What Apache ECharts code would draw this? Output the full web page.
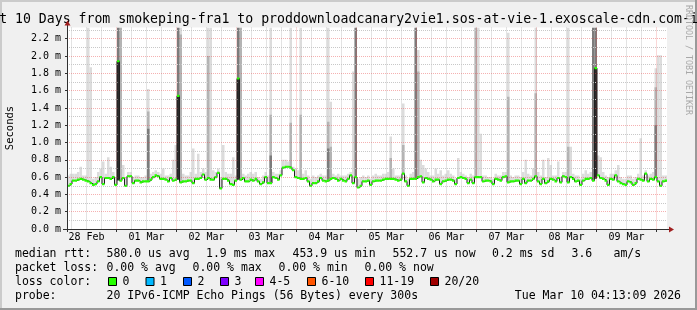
<!DOCTYPE html>
<html><head><meta charset="utf-8">
<script src="https://cdn.jsdelivr.net/npm/echarts@6/dist/echarts.min.js"></script>
<style>html,body{margin:0;padding:0;background:#f0f0f0}#c{width:697px;height:310px}</style>
</head><body><div id="c"></div>
<script>
// ---- data (hours measured from 28 Feb 00:00; one bin = 1 hour) ----
const START_H = 4.22;   // 28 Feb 04:13
const END_H = 244.22;   // 10 Mar 04:13
const dayLabels = ['28 Feb','01 Mar','02 Mar','03 Mar','04 Mar','05 Mar','06 Mar','07 Mar','08 Mar','09 Mar'];
const dayLabelHours = [12,36,60,84,108,132,156,180,204,228];
const dayLineHours = [24,48,72,96,120,144,168,192,216,240];
const yMajorTicks = [0,0.2,0.4,0.6,0.8,1.0,1.2,1.4,1.6,1.8,2.0,2.2];
const yMinorTicks = [0.1,0.3,0.5,0.7,0.9,1.1,1.3,1.5,1.7,1.9,2.1,2.3];
const Y_MAX = 2.33;

// median rtt per hour (ms)
const median = [
0.50,0.52,0.56,0.56,0.57,0.58,0.57,0.56,0.55,0.53,
0.51,0.52,0.55,0.60,0.52,0.59,0.59,0.58,0.60,0.51,
1.94,0.56,0.59,0.50,0.61,0.61,0.53,0.56,0.56,0.54,
0.55,0.55,0.55,0.57,0.60,0.62,0.61,0.58,0.58,0.57,
0.55,0.59,0.56,0.57,1.54,0.54,0.55,0.55,0.56,0.56,
0.53,0.58,0.58,0.59,0.63,0.57,0.59,0.57,0.57,0.60,
0.65,0.47,0.58,0.58,0.56,0.52,0.51,0.56,1.74,0.57,
0.59,0.55,0.55,0.57,0.56,0.58,0.55,0.52,0.54,0.60,
0.53,0.53,0.60,0.59,0.57,0.62,0.71,0.72,0.72,0.71,
0.68,0.60,0.59,0.58,0.58,0.59,0.55,0.50,0.53,0.53,
0.55,0.59,0.56,0.55,0.56,0.58,0.59,0.58,0.56,0.58,
0.56,0.55,0.58,0.62,0.53,0.60,0.48,0.50,0.55,0.55,
0.56,0.51,0.55,0.56,0.56,0.56,0.57,0.58,0.58,0.58,
0.58,0.57,0.56,0.57,0.64,0.55,0.50,0.58,0.58,0.58,
0.60,0.61,0.54,0.59,0.58,0.57,0.55,0.57,0.57,0.52,
0.55,0.56,0.57,0.57,0.56,0.52,0.59,0.60,0.59,0.58,
0.53,0.57,0.53,0.60,0.60,0.60,0.55,0.56,0.56,0.55,
0.52,0.58,0.57,0.56,0.60,0.61,0.54,0.55,0.55,0.56,
0.56,0.52,0.58,0.53,0.56,0.56,0.58,0.61,0.55,0.52,
0.58,0.53,0.55,0.58,0.57,0.55,0.59,0.54,0.61,0.60,
0.54,0.60,0.58,0.55,0.56,0.51,0.56,0.58,0.58,0.59,
0.56,1.86,0.62,0.59,0.58,0.56,0.51,0.58,0.57,0.62,
0.55,0.53,0.52,0.51,0.55,0.54,0.51,0.53,0.58,0.57,
0.56,0.64,0.55,0.58,0.57,0.60,0.55,0.50,0.55,0.56
];
// top of the light smoke per hour (ms)
const smokeHi = [
0.62,0.64,0.64,0.64,0.66,0.72,0.62,0.62,2.33,1.87,
0.58,0.60,0.66,0.70,0.78,0.64,0.83,0.72,0.66,0.60,
2.33,2.33,0.74,0.60,0.66,0.66,0.60,0.62,0.62,0.60,
0.60,0.62,1.62,0.64,0.66,0.68,0.66,0.64,0.70,0.62,
0.62,0.64,0.80,0.97,2.33,2.33,0.64,0.62,0.62,0.66,
0.93,0.64,0.87,0.66,0.70,0.66,2.33,2.33,0.68,0.66,
0.70,0.60,0.97,0.66,0.64,0.64,0.83,0.62,2.33,2.33,
0.64,0.62,0.64,0.66,0.64,0.66,0.60,0.58,0.62,0.66,
0.62,2.33,0.66,0.64,0.64,0.68,0.80,0.80,0.78,2.33,
0.72,0.70,0.68,2.33,0.64,0.68,0.62,0.58,0.62,0.60,
0.62,0.64,0.62,0.62,2.33,1.47,0.64,0.62,0.64,0.62,
0.62,0.62,0.64,0.66,1.82,2.33,0.58,0.60,0.62,0.60,
0.62,0.58,0.62,0.64,0.62,0.62,0.64,0.64,0.66,1.07,
0.70,0.62,0.62,0.62,1.45,0.62,0.58,0.64,0.66,2.33,
2.07,0.80,0.74,0.70,0.66,0.62,0.62,0.70,0.64,0.68,
0.62,0.64,0.68,0.64,0.62,0.58,0.82,0.66,0.64,0.62,
0.60,0.64,0.62,2.33,2.33,1.10,0.62,0.62,0.60,0.60,
0.58,0.64,0.62,0.62,0.66,0.66,2.27,0.62,0.60,0.62,
0.62,0.60,0.66,0.80,0.64,0.62,0.70,2.33,0.66,0.62,
0.80,0.60,0.82,0.74,0.62,0.62,0.78,0.60,0.66,0.66,
2.33,0.95,0.64,0.62,0.62,0.58,0.64,0.68,0.64,0.66,
2.33,2.33,0.85,0.83,0.66,0.62,0.60,0.64,0.64,0.68,
0.74,0.60,0.58,0.58,0.62,0.62,0.58,0.60,0.64,1.05,
0.62,0.68,0.62,0.64,0.66,1.86,2.01,2.01,0.62,0.62
];
// medium smoke: [hour bin, top]
const smokeMid = [[21,2.33],[32,1.36],[45,2.25],[56,2.0],[69,2.33],[81,1.32],[89,1.23],[93,1.32],
  [104,1.24],[105,0.95],[129,0.82],[134,0.97],[140,1.82],[163,2.33],[176,1.53],[187,1.57],[200,0.95],[235,1.64]];
// dark smoke: [hour bin, bottom, top, shade]
const smokeDark = [[20,0.56,1.94,0],[20,1.94,2.33,1],[32,0.56,1.16,1],[44,0.57,1.54,0],[44,1.54,2.33,1],
  [68,0.57,1.74,0],[68,1.74,2.33,1],[81,0.54,0.85,1],[104,0.57,0.93,1],[115,0.60,2.33,1],[139,0.58,2.33,1],
  [210,0.56,2.33,1],[211,0.58,1.86,0],[211,1.86,2.33,1],[235,0.60,1.20,1]];

const titleText = 'Last 10 Days from smokeping-fra1 to proddownloadcanary2vie1.sos-at-vie-1.exoscale-cdn.com-ipv6';
const statsRow1 = [['median rtt:',15],['580.0 us avg',106.5],['1.9 ms max',206],['453.9 us min',292.5],['552.7 us now',392.5],['0.2 ms sd',492],['3.6',571.5],['am/s',613.5]];
const statsRow2 = [['packet loss:',15],['0.00 % avg',106.5],['0.00 % max',192.5],['0.00 % min',278.5],['0.00 % now',364.5]];
const lossLabels = ['0','1','2','3','4-5','6-10','11-19','20/20'];
const lossColors = ['#26ff00','#00b8ff','#0059ff','#7e00ff','#ff00ff','#ff5500','#ff0000','#a00000'];
const lossBoxX = [108,145.5,183,220,255,307,365,430];
const probeText = '20 IPv6-ICMP Echo Pings (56 Bytes) every 300s';
const dateText = 'Tue Mar 10 04:13:09 2026';

// ---- build ----
const MONO = "'DejaVu Sans Mono', monospace";
const LIGHT = '#dcdcdc', MID = '#b4b4b4', DARK = ['#2b2b2b', '#7c7c7c'];
const smokeRects = [];
smokeHi.forEach((hi, k) => smokeRects.push([START_H + k, median[k], hi, LIGHT]));
smokeMid.forEach(d => smokeRects.push([START_H + d[0], median[d[0]], d[1], MID]));
smokeDark.forEach(d => smokeRects.push([START_H + d[0], d[1], d[2], DARK[d[3]]]));

const lineData = median.map((v, k) => [START_H + k, v]);
lineData.push([END_H, median[median.length - 1]]);
const greenData = median.map((v, k) => [START_H + k, v]);

const sixHour = [];
for (let h = 6; h <= 240; h += 6) if (h % 24) sixHour.push(h);

function rectItem(params, api) {
  const x0 = api.value(0);
  const p0 = api.coord([x0, api.value(1)]);
  const p1 = api.coord([x0 + 1, api.value(2)]);
  return { type: 'rect', shape: { x: p0[0], y: p1[1], width: p1[0] - p0[0], height: p0[1] - p1[1] },
    style: { fill: smokeRects[params.dataIndex][3] } };
}
function greenItem(params, api) {
  const x0 = api.value(0);
  const p0 = api.coord([x0, api.value(1)]);
  const p1 = api.coord([x0 + 1, api.value(1)]);
  return { type: 'rect', shape: { x: p0[0], y: p0[1] - 1.1, width: p1[0] - p0[0], height: 2.2 },
    style: { fill: lossColors[0] } };
}

const graphics = [
  { type: 'rect', shape: { x: 0, y: 0, width: 697, height: 2 }, style: { fill: '#cbcbcb' }, z: 100 },
  { type: 'rect', shape: { x: 0, y: 0, width: 2, height: 310 }, style: { fill: '#cbcbcb' }, z: 100 },
  { type: 'rect', shape: { x: 0, y: 308, width: 697, height: 2 }, style: { fill: '#999999' }, z: 100 },
  { type: 'rect', shape: { x: 695, y: 0, width: 2, height: 310 }, style: { fill: '#999999' }, z: 100 },
  { type: 'text', x: 348.5, y: 19.5, style: { text: titleText, font: '13.2px ' + MONO, fill: '#000', align: 'center', verticalAlign: 'middle' }, z: 100 },
  { type: 'text', x: 688.5, y: 60, rotation: -Math.PI / 2, style: { text: 'RRDTOOL / TOBI OETIKER', font: '8.3px ' + MONO, fill: '#a8a8a8', align: 'center', verticalAlign: 'middle' }, z: 100 },
  { type: 'text', x: 10, y: 128, rotation: Math.PI / 2, style: { text: 'Seconds', font: '10.5px ' + MONO, fill: '#000', align: 'center', verticalAlign: 'middle' }, z: 100 },
  { type: 'line', shape: { x1: 67.5, y1: 232, x2: 67.5, y2: 25 }, style: { stroke: '#303030', lineWidth: 1 }, z: 100 },
  { type: 'line', shape: { x1: 63, y1: 229.5, x2: 670, y2: 229.5 }, style: { stroke: '#303030', lineWidth: 1 }, z: 100 },
  { type: 'polygon', shape: { points: [[64.5, 25.5], [70.5, 25.5], [67.5, 20.5]] }, style: { fill: '#a02020' }, z: 100 },
  { type: 'polygon', shape: { points: [[669, 226.5], [669, 232.5], [674, 229.5]] }, style: { fill: '#a02020' }, z: 100 }
];
const rowY = [254.5, 268.5, 282, 296];
const legFont = '11.5px ' + MONO;
statsRow1.forEach(s => graphics.push({ type: 'text', x: s[1], y: rowY[0], style: { text: s[0], font: legFont, fill: '#000', verticalAlign: 'middle' }, z: 100 }));
statsRow2.forEach(s => graphics.push({ type: 'text', x: s[1], y: rowY[1], style: { text: s[0], font: legFont, fill: '#000', verticalAlign: 'middle' }, z: 100 }));
graphics.push({ type: 'text', x: 15, y: rowY[2], style: { text: 'loss color:', font: legFont, fill: '#000', verticalAlign: 'middle' }, z: 100 });
lossLabels.forEach((lab, i) => {
  graphics.push({ type: 'rect', shape: { x: lossBoxX[i] + 0.5, y: 277.5, width: 8, height: 8 }, style: { fill: lossColors[i], stroke: '#000', lineWidth: 1 }, z: 100 });
  graphics.push({ type: 'text', x: lossBoxX[i] + 14.5, y: rowY[2], style: { text: lab, font: legFont, fill: '#000', verticalAlign: 'middle' }, z: 100 });
});
graphics.push({ type: 'text', x: 15, y: rowY[3], style: { text: 'probe:', font: legFont, fill: '#000', verticalAlign: 'middle' }, z: 100 });
graphics.push({ type: 'text', x: 106.5, y: rowY[3], style: { text: probeText, font: legFont, fill: '#000', verticalAlign: 'middle' }, z: 100 });
graphics.push({ type: 'text', x: 681, y: rowY[3], style: { text: dateText, font: legFont, fill: '#000', align: 'right', verticalAlign: 'middle' }, z: 100 });

const chart = echarts.init(document.getElementById('c'), null, { renderer: 'canvas' });
chart.setOption({
  animation: false,
  backgroundColor: '#f0f0f0',
  grid: { left: 67, right: 30, top: 27.5, bottom: 81, show: true, backgroundColor: '#ffffff', borderWidth: 0 },
  xAxis: [
    { type: 'value', min: START_H, max: END_H, z: 5,
      axisLine: { show: false },
      axisTick: { show: true, length: 3, customValues: dayLineHours, lineStyle: { color: '#303030' } },
      splitLine: { show: true, lineStyle: { color: 'rgba(230,70,70,0.42)', type: [1, 1], width: 1 } },
      axisLabel: { customValues: dayLabelHours, margin: 3, fontFamily: MONO, fontSize: 10, color: '#000',
        formatter: v => dayLabels[Math.round((v - 12) / 24)] } },
    { type: 'value', min: START_H, max: END_H, z: 4,
      axisLine: { show: false }, axisLabel: { show: false },
      axisTick: { show: false, customValues: sixHour },
      splitLine: { show: true, lineStyle: { color: '#c8c8c8', type: [1, 1], width: 1 } } }
  ],
  yAxis: [
    { type: 'value', min: 0, max: Y_MAX, z: 5,
      axisLine: { show: false },
      axisTick: { show: true, length: 2, customValues: yMajorTicks, lineStyle: { color: '#303030' } },
      splitLine: { show: true, lineStyle: { color: 'rgba(230,70,70,0.42)', type: [1, 1], width: 1 } },
      axisLabel: { customValues: yMajorTicks, margin: 6, fontFamily: MONO, fontSize: 10, color: '#000',
        formatter: v => v.toFixed(1) + ' m' } },
    { type: 'value', min: 0, max: Y_MAX, z: 4,
      axisLine: { show: false }, axisLabel: { show: false },
      axisTick: { show: false, customValues: yMinorTicks },
      splitLine: { show: true, lineStyle: { color: '#c8c8c8', type: [1, 1], width: 1 } } }
  ],
  series: [
    { type: 'custom', name: 'smoke', data: smokeRects.map(r => [r[0], r[1], r[2]]), renderItem: rectItem,
      clip: true, z: 2, encode: { x: 0, y: [1, 2] } },
    { type: 'line', name: 'median', data: lineData, step: 'end', showSymbol: false, symbol: 'none',
      lineStyle: { color: '#202020', width: 1 }, z: 10 },
    { type: 'custom', name: 'loss', data: greenData, renderItem: greenItem, clip: true, z: 11, encode: { x: 0, y: 1 } }
  ],
  graphic: { elements: graphics }
});
</script></body></html>
